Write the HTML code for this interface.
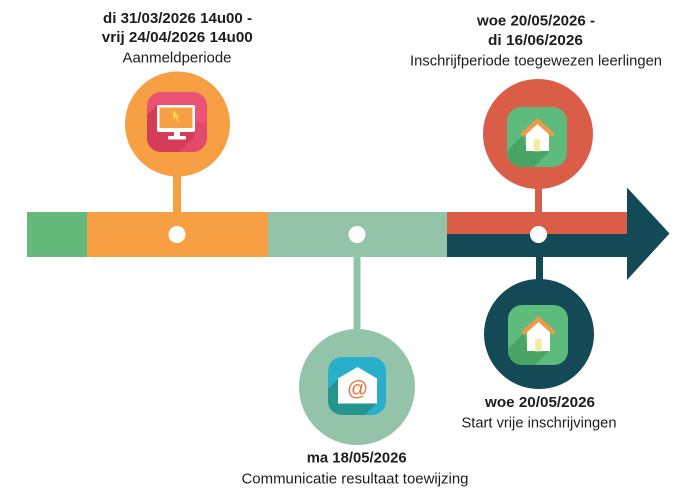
<!DOCTYPE html>
<html>
<head>
<meta charset="utf-8">
<style>
  html, body { margin: 0; padding: 0; background: #ffffff; }
  body { width: 682px; height: 494px; overflow: hidden; }
  svg { display: block; }
  text { font-family: "Liberation Sans", "DejaVu Sans", sans-serif; fill: #1d1d1b; }
  .b { font-weight: bold; font-size: 15px; }
  .r { font-size: 15px; }
</style>
</head>
<body>
<svg width="682" height="494" viewBox="0 0 682 494" xmlns="http://www.w3.org/2000/svg">
  <defs>
    <clipPath id="cp1"><rect x="0" y="0" width="60" height="60" rx="14" ry="14"/></clipPath>
    <clipPath id="cp2"><rect x="0" y="0" width="58" height="58" rx="14" ry="14"/></clipPath>
  </defs>

  <!-- Timeline bar -->
  <rect x="27" y="212" width="60" height="45" fill="#64b97b"/>
  <rect x="87" y="212" width="181" height="45" fill="#f7a043"/>
  <rect x="268" y="212" width="179" height="45" fill="#93c4a9"/>
  <rect x="447" y="212" width="181" height="22" fill="#da5e47"/>
  <rect x="447" y="234" width="181" height="23" fill="#134a56"/>
  <polygon points="627,187.5 669.5,233.5 627,280" fill="#134a56"/>

  <!-- Stems -->
  <rect x="173" y="170" width="8" height="43" fill="#f7a043"/>
  <rect x="535" y="182" width="7" height="31" fill="#da5e47"/>
  <rect x="536" y="256" width="7" height="30" fill="#134a56"/>
  <rect x="353.5" y="256" width="7" height="78" fill="#93c4a9"/>

  <!-- Dots -->
  <circle cx="177" cy="234.5" r="8.5" fill="#ffffff"/>
  <circle cx="357" cy="234.5" r="8.5" fill="#ffffff"/>
  <circle cx="538.5" cy="234.5" r="8.5" fill="#ffffff"/>

  <!-- Circles -->
  <circle cx="177.5" cy="124" r="52.5" fill="#f7a043"/>
  <circle cx="538" cy="134" r="55" fill="#da5e47"/>
  <circle cx="539" cy="334" r="55" fill="#134a56"/>
  <circle cx="357" cy="387" r="58" fill="#93c4a9"/>

  <!-- Pink monitor icon -->
  <g transform="translate(147,92)">
    <g clip-path="url(#cp1)">
      <rect x="0" y="0" width="60" height="60" fill="#ea5376"/>
      <rect x="0" y="30" width="60" height="30" fill="#e34a6a"/>
      <polygon points="10,13 0,23 0,60 32,60 48,44 48,40" fill="#d43c58"/>
    </g>
    <rect x="10" y="13" width="38" height="27" rx="2" fill="#ffffff"/>
    <rect x="12.5" y="15.5" width="33" height="20.5" fill="#f7a043"/>
    <rect x="27" y="39" width="6" height="6" fill="#ffffff"/>
    <rect x="21" y="44" width="18" height="3.5" rx="1" fill="#ffffff"/>
    <polygon points="26,18 26,28 28.3,25.8 30.3,29.5 32,28.6 30,25 33,25" fill="#f8d24a"/>
  </g>

  <!-- Green house icon (red circle) -->
  <g transform="translate(507,107)">
    <g clip-path="url(#cp1)">
      <rect x="0" y="0" width="60" height="60" fill="#5dbb7e"/>
      <polygon points="16,28 0,44 0,60 27,60 43,44 20,44" fill="#4aa565"/>
    </g>
    <polygon points="19,27 30.5,17 42,27 42,44 19,44" fill="#ffffff"/>
    <polyline points="14.5,28.5 30.5,14 46.5,28.5" fill="none" stroke="#ee9a4a" stroke-width="4.5" stroke-linejoin="miter"/>
    <rect x="26.5" y="32" width="7" height="12" fill="#f2eba2" stroke="#ffffff" stroke-width="0.5"/>
  </g>

  <!-- Green house icon (dark circle) -->
  <g transform="translate(508,305)">
    <g clip-path="url(#cp1)">
      <rect x="0" y="0" width="60" height="60" fill="#5dbb7e"/>
      <polygon points="16,28 0,44 0,60 27,60 43,44 20,44" fill="#4aa565"/>
    </g>
    <polygon points="19,27 30.5,17 42,27 42,46 19,46" fill="#ffffff"/>
    <polyline points="14.5,28.5 30.5,14 46.5,28.5" fill="none" stroke="#ee9a4a" stroke-width="4.5" stroke-linejoin="miter"/>
    <rect x="27" y="33.5" width="7" height="12.5" fill="#f2eba2" stroke="#ffffff" stroke-width="0.5"/>
  </g>

  <!-- Blue envelope icon -->
  <g transform="translate(328,357)">
    <g clip-path="url(#cp2)">
      <rect x="0" y="0" width="58" height="58" fill="#2aafcb"/>
      <polygon points="10,22 0,32 0,58 37,58 49,46" fill="#25948f"/>
    </g>
    <polygon points="10,21.5 29.5,10 49,21.5 49,46.5 10,46.5" fill="#ffffff"/>
    <text x="29.5" y="38.5" text-anchor="middle" style="font-size:21px; fill:#e8763f; font-family:'Liberation Sans',sans-serif;">@</text>
  </g>

  <!-- Labels: top left -->
  <text class="b" x="177.5" y="23" text-anchor="middle" textLength="149" lengthAdjust="spacingAndGlyphs">di 31/03/2026 14u00 -</text>
  <text class="b" x="177.3" y="42" text-anchor="middle" textLength="151" lengthAdjust="spacingAndGlyphs">vrij 24/04/2026 14u00</text>
  <text class="r" x="177" y="62.5" text-anchor="middle" textLength="109" lengthAdjust="spacingAndGlyphs">Aanmeldperiode</text>

  <!-- Labels: top right -->
  <text class="b" x="536" y="25.5" text-anchor="middle" textLength="118" lengthAdjust="spacingAndGlyphs">woe 20/05/2026 -</text>
  <text class="b" x="535.5" y="45" text-anchor="middle" textLength="95" lengthAdjust="spacingAndGlyphs">di 16/06/2026</text>
  <text class="r" x="536" y="65.5" text-anchor="middle" textLength="252" lengthAdjust="spacingAndGlyphs">Inschrijfperiode toegewezen leerlingen</text>

  <!-- Labels: bottom right -->
  <text class="b" x="540" y="407" text-anchor="middle" textLength="110" lengthAdjust="spacingAndGlyphs">woe 20/05/2026</text>
  <text class="r" x="539" y="427.5" text-anchor="middle" textLength="155" lengthAdjust="spacingAndGlyphs">Start vrije inschrijvingen</text>

  <!-- Labels: bottom middle -->
  <text class="b" x="356.7" y="462.7" text-anchor="middle" textLength="100" lengthAdjust="spacingAndGlyphs">ma 18/05/2026</text>
  <text class="r" x="355" y="483.3" text-anchor="middle" textLength="227" lengthAdjust="spacingAndGlyphs">Communicatie resultaat toewijzing</text>
</svg>
</body>
</html>
